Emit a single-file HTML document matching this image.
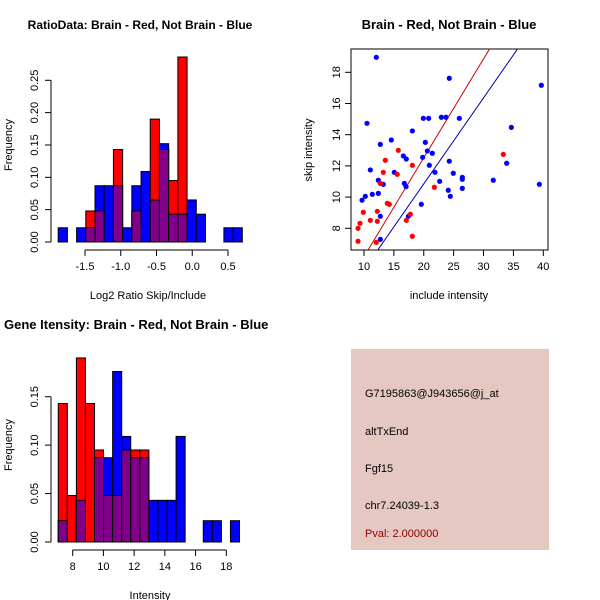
<!DOCTYPE html>
<html><head><meta charset="utf-8"><style>
body{margin:0;background:#fff}
svg{display:block;font-family:"Liberation Sans",sans-serif}
</style></head><body>
<svg id="s" width="600" height="600" xmlns="http://www.w3.org/2000/svg">
<rect width="600" height="600" fill="#fff"/>
<g id="p1"></g>
<g id="p2"></g>
<g id="p3"></g>
<g>
<rect x="351" y="349" width="198" height="201" fill="#E5C8C2"/>
<g font-size="11" fill="#000">
<text x="365" y="397">G7195863@J943656@j_at</text>
<text x="365" y="435">altTxEnd</text>
<text x="365" y="472">Fgf15</text>
<text x="365" y="509">chr7.24039-1.3</text>
<text x="365" y="537" fill="#8B0000">Pval: 2.000000</text>
</g></g>
</svg>
<script>
// Panel 1: ratio histogram
const ratioBreakStart = -1.875, ratioBreakEnd = 0.7;
const ratioBlue = [0.022,0,0.022,0.022,0.087,0.087,0.087,0.022,0.087,0.109,0.065,0.152,0.043,0.043,0.065,0.043,0,0,0.022,0.022];
const ratioRed  = [0,0,0,0.048,0.048,0,0.143,0,0.048,0,0.190,0.143,0.095,0.286,0,0,0,0,0,0];
const ratioXTicks = [-1.5,-1.0,-0.5,0.0,0.5];
const ratioYTicks = [0,0.05,0.10,0.15,0.20,0.25];
// Panel 2: scatter
const blueInclude = [12.06,24.27,39.67,10.5,22.94,23.72,19.93,20.82,25.95,34.65,18.09,12.73,14.57,20.26,20.6,21.43,16.58,17.08,19.81,20.93,24.27,33.87,11.06,15.07,21.88,24.94,26.45,26.45,31.63,22.66,16.75,12.4,13.23,17.03,11.39,12.4,26.45,24.1,24.44,10.22,9.67,39.34,19.59,12.73,17.42,12.73];
const blueSkip = [18.96,17.62,17.17,14.73,15.12,15.12,15.05,15.05,15.05,14.47,14.24,13.38,13.66,13.51,12.96,12.81,12.64,12.44,12.55,12.04,12.3,12.17,11.74,11.59,11.59,11.53,11.27,11.14,11.08,11.01,10.88,11.08,10.82,10.67,10.18,10.24,10.56,10.44,10.05,10.05,9.8,10.82,9.54,8.77,8.77,7.29];
const redInclude = [15.74,13.57,33.31,13.23,15.57,18.09,12.73,21.77,13.9,14.24,9.89,12.23,17.75,11.06,12.23,17.08,9.33,9.0,18.09,9.0,12.06];
const redSkip = [13.0,12.36,12.74,11.59,11.46,12.04,10.88,10.63,9.6,9.54,9.03,9.09,8.9,8.51,8.45,8.51,8.32,8.0,7.49,7.17,7.1];
const redFit = [-0.16, 0.634];
const blueFit = [-0.17, 0.551];
const scatterXTicks = [10,15,20,25,30,35,40];
const scatterYTicks = [8,10,12,14,16,18];
// Panel 3: gene intensity histogram
const geneBreakStart = 7.06, geneBreakEnd = 18.86;
const geneBlue = [0.022,0,0.043,0,0.087,0.087,0.176,0.109,0.087,0.087,0.043,0.043,0.043,0.109,0,0,0.022,0.022,0,0.022];
const geneRed  = [0.143,0.048,0.190,0.143,0.095,0.048,0.048,0.095,0.095,0.095,0,0,0,0,0,0,0,0,0,0];
const geneXTicks = [8,10,12,14,16,18];
const geneYTicks = [0,0.05,0.10,0.15];

const NS="http://www.w3.org/2000/svg";
function mk(parent,tag,attrs,text){const e=document.createElementNS(NS,tag);for(const k in attrs)e.setAttribute(k,attrs[k]);if(text!==undefined)e.textContent=text;parent.appendChild(e);return e;}
function lin(d0,d1,r0,r1){return v=>r0+(v-d0)/(d1-d0)*(r1-r0);}

function hist(g,o){
  const x=lin(o.x0d,o.x1d,o.x0p,o.x1p), y=lin(0,o.yref,o.y0p,o.yrefp);
  const n=o.blue.length, w=(o.bEnd-o.bStart)/n;
  const t=mk(g,'text',{x:o.titleX,y:o.titleY,'font-size':o.titleSize,'font-weight':'bold','text-anchor':o.titleAnchor});
  t.textContent=o.title;
  
  
  for(let i=0;i<n;i++){
    const a=x(o.bStart+i*w), b=x(o.bStart+(i+1)*w);
    [['blue',o.blue[i],'#0000FF'],['red',o.red[i],'#FF0000']].forEach(([nm,v,c])=>{
      if(v>0){const r=mk(g,'rect',{x:a,y:y(v),width:b-a,height:y(0)-y(v),fill:c,stroke:'#000','stroke-width':1});
      
      }
    });
    const m=Math.min(o.blue[i],o.red[i]);
    if(m>0){const r=mk(g,'rect',{x:a,y:y(m),width:b-a,height:y(0)-y(m),fill:'#80008B',stroke:'#000','stroke-width':1});
    
    }
  }
  const ax=o.axisY;
  const xa=mk(g,'g',{});
  
  
  mk(xa,'line',{x1:x(o.xt[0]),x2:x(o.xt[o.xt.length-1]),y1:ax,y2:ax,stroke:'#000'});
  o.xt.forEach(v=>{mk(xa,'line',{x1:x(v),x2:x(v),y1:ax,y2:ax+6,stroke:'#000'});
    const tl=mk(xa,'text',{x:x(v),y:ax+20,'font-size':11,'text-anchor':'middle'},o.fmtX(v));
    
    });
  const ya=mk(g,'g',{});
  
  
  mk(ya,'line',{x1:51,x2:51,y1:y(0),y2:y(o.yt[o.yt.length-1]),stroke:'#000'});
  o.yt.forEach(v=>{mk(ya,'line',{x1:45,x2:51,y1:y(v),y2:y(v),stroke:'#000'});
    const tl=mk(ya,'text',{x:0,y:0,'font-size':11,'text-anchor':'middle',transform:`translate(38,${y(v)}) rotate(-90)`},v.toFixed(2));
    
    });
  const xl=mk(g,'text',{x:o.xlX,y:o.xlY,'font-size':11,'text-anchor':'middle'},o.xlab);
  
  
  const yl=mk(g,'text',{x:0,y:0,'font-size':11,'text-anchor':'middle',transform:`translate(12,${o.ylY}) rotate(-90)`},'Frequency');
  
  
}

hist(document.getElementById('p1'),{blue:ratioBlue,red:ratioRed,bStart:ratioBreakStart,bEnd:ratioBreakEnd,
  x0d:-1.5,x1d:0.5,x0p:85,x1p:228,yref:0.25,y0p:242,yrefp:80.3,xt:ratioXTicks,yt:ratioYTicks,
  fmtX:v=>v.toFixed(1),axisY:250,title:'RatioData: Brain - Red, Not Brain - Blue',titleX:140,titleY:29,titleAnchor:'middle',titleSize:12,
  xlab:'Log2 Ratio Skip/Include',xlX:148,xlY:299,ylY:145});
hist(document.getElementById('p3'),{blue:geneBlue,red:geneRed,bStart:geneBreakStart,bEnd:geneBreakEnd,
  x0d:8,x1d:18,x0p:72.7,x1p:226.3,yref:0.15,y0p:542,yrefp:396.7,xt:geneXTicks,yt:geneYTicks,
  fmtX:v=>String(v),axisY:550,title:'Gene Itensity: Brain - Red, Not Brain - Blue',titleX:4,titleY:329,titleAnchor:'start',titleSize:13,
  xlab:'Intensity',xlX:150,xlY:599,ylY:445});

// scatter
(function(){
  const g=document.getElementById('p2');
  const L=351,R=548,T=49,B=250;
  const x=lin(10,40,364,543.3), y=lin(8,18,228.3,72.3);
  const t=mk(g,'text',{x:449,y:29,'font-size':13,'font-weight':'bold','text-anchor':'middle'},'Brain - Red, Not Brain - Blue');
  
  
  const bx=mk(g,'rect',{x:L,y:T,width:R-L,height:B-T,fill:'none',stroke:'#000'});
  
  
  const defs=mk(g,'clipPath',{id:'clip'});mk(defs,'rect',{x:L,y:T,width:R-L,height:B-T});
  [[redFit,'#CC0000','red-fit-line'],[blueFit,'#0000AA','blue-fit-line']].forEach(([f,c,nm])=>{
    const l=mk(g,'line',{x1:x(5),y1:y(f[0]+f[1]*5),x2:x(45),y2:y(f[0]+f[1]*45),stroke:c,'stroke-width':1,'clip-path':'url(#clip)'});
    
    
  });
  blueInclude.forEach((v,i)=>{const c=mk(g,'circle',{cx:x(v),cy:y(blueSkip[i]),r:2.6,fill:'#0000FF'});
    
    });
  redInclude.forEach((v,i)=>{const c=mk(g,'circle',{cx:x(v),cy:y(redSkip[i]),r:2.6,fill:'#FF0000'});
    
    });
  scatterXTicks.forEach(v=>{mk(g,'line',{x1:x(v),x2:x(v),y1:B,y2:B+6,stroke:'#000'});
    const tl=mk(g,'text',{x:x(v),y:B+20,'font-size':11,'text-anchor':'middle'},String(v));
    
    });
  scatterYTicks.forEach(v=>{mk(g,'line',{x1:L-6,x2:L,y1:y(v),y2:y(v),stroke:'#000'});
    const tl=mk(g,'text',{x:0,y:0,'font-size':11,'text-anchor':'middle',transform:`translate(340,${y(v)}) rotate(-90)`},String(v));
    
    });
  const xl=mk(g,'text',{x:449,y:299,'font-size':11,'text-anchor':'middle'},'include intensity');
  
  
  const yl=mk(g,'text',{x:0,y:0,'font-size':11,'text-anchor':'middle',transform:'translate(312,150) rotate(-90)'},'skip intensity');
  
  
})();
</script>
</body></html>
